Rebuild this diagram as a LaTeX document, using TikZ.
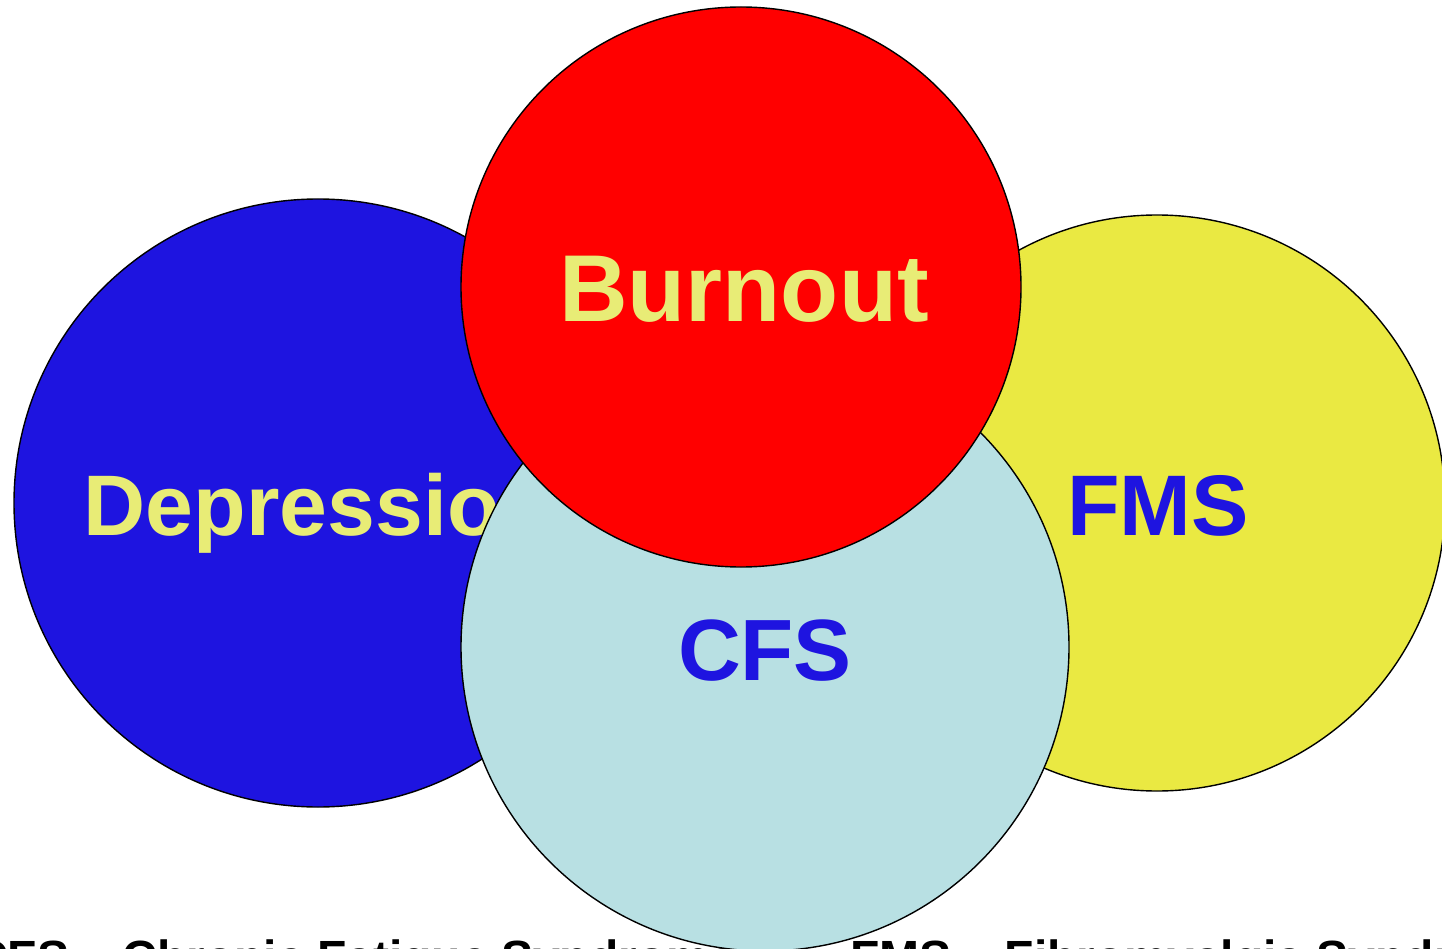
\documentclass[tikz,border=0pt]{standalone}
\usepackage{fontspec}
\setmainfont{Liberation Sans}
\definecolor{depblue}{RGB}{30,20,224}
\definecolor{burnred}{RGB}{255,0,0}
\definecolor{fmsyellow}{RGB}{234,233,66}
\definecolor{cfsblue}{RGB}{184,224,227}
\definecolor{labyellow}{RGB}{232,236,118}
\begin{document}
\begin{tikzpicture}[x=1pt,y=-1pt,
  ring/.style={draw=black,line width=1.4pt},
  biglabel/.style={anchor=base,inner sep=0pt,font=\fontsize{#1}{#1}\selectfont\bfseries},
  note/.style={anchor=base west,inner sep=0pt,font=\fontsize{48}{48}\selectfont\bfseries,text=black}]
\useasboundingbox (0,0) rectangle (1442,949);
\clip (0,0) rectangle (1442,949);
% Depression
\node[circle,ring,fill=depblue,minimum size=608pt,inner sep=0pt] (dep) at (318,503) {};
\node[biglabel=86,text=labyellow] (deptext) at (318,535) {Depression};
% FMS
\node[circle,ring,fill=fmsyellow,minimum size=576pt,inner sep=0pt] (fms) at (1157,503) {};
\node[biglabel=86,text=depblue] (fmstext) at (1158,535) {FMS};
% CFS
\node[circle,ring,fill=cfsblue,minimum size=608pt,inner sep=0pt] (cfs) at (765,647) {};
\node[biglabel=87,text=depblue] (cfstext) at (765,680) {CFS};
% Burnout
\node[circle,ring,fill=burnred,minimum size=560pt,inner sep=0pt] (burn) at (741,287) {};
\node[biglabel=95,text=labyellow] (burntext) at (744,322) {Burnout};
% notes
\node[note] (cfsnote) at (-27,974) {CFS – Chronic Fatigue Syndrome};
\node[note] (fmsnote) at (850,974) {FMS – Fibromyalgia Syndrome};
\end{tikzpicture}
\end{document}
